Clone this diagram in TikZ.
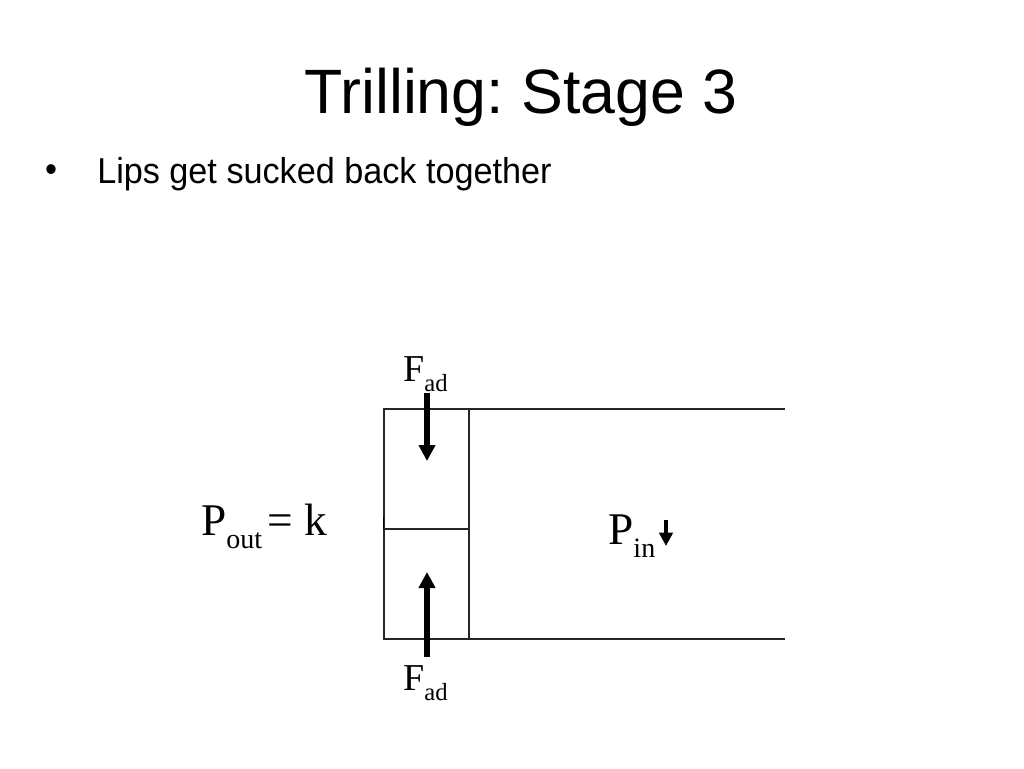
\documentclass[tikz,border=0pt]{standalone}
\usepackage{fontspec}
\setmainfont{Liberation Serif}
\newfontfamily\titlefont{Liberation Sans}
\newfontfamily\bodyfont[FakeStretch=0.95]{Liberation Sans}
\usetikzlibrary{arrows.meta}
\frenchspacing
\tikzset{
  wall/.style={draw=black!85, line width=1.1pt},
  force/.style={line width=4pt, -{Triangle[length=12pt,width=12pt]}},
  smallforce/.style={line width=3pt, -{Triangle[length=10pt,width=10pt]}},
  lbl/.style={inner sep=0pt, anchor=base west},
}
\newcommand{\Fad}{\fontsize{28.5}{30}\selectfont F\raisebox{-0.28em}{\fontsize{18.5}{19}\selectfont ad}}
\begin{document}
\begin{tikzpicture}[x=0.75pt,y=-0.75pt]
\useasboundingbox[fill=white] (0,0) rectangle (1024,768);
% title and bullet
\node[inner sep=0pt, anchor=base] (title) at (521,113) {\titlefont\fontsize{47}{50}\selectfont Trilling: Stage 3};
\node[inner sep=0pt] (bullet) at (51,173) {\bodyfont\fontsize{27}{30}\selectfont\textbullet};
\node[lbl] (point) at (97,183) {\bodyfont\fontsize{27}{30}\selectfont Lips get sucked back together};
% geometry
\coordinate (tl) at (384,409);
\coordinate (bl) at (384,639);
\coordinate (tr) at (785,409);
\coordinate (br) at (785,639);
\coordinate (mt) at (469,409);
\coordinate (mb) at (469,639);
\coordinate (ml) at (384,529);
\coordinate (mm) at (469,529);
\draw[wall] (tr) -- (tl) -- (bl) -- (br);
\draw[wall] (mt) -- (mb);
\draw[wall] (ml) -- (mm);
\draw[line width=1.4pt] (383.5,517) -- (383.5,529);
% forces
\coordinate (a1s) at (427,393);
\coordinate (a1e) at (427,461);
\coordinate (a2s) at (427,657);
\coordinate (a2e) at (427,572);
\draw[force] (a1s) -- (a1e);
\draw[force] (a2s) -- (a2e);
\node[lbl] (ftop) at (403,381) {\Fad};
\node[lbl] (fbot) at (403,690) {\Fad};
% pressures
\node[lbl] (pout) at (201,535) {\fontsize{34}{36}\selectfont P\raisebox{-0.3em}{\fontsize{21}{22}\selectfont out}\hspace{0.12em}= k};
\node[lbl] (pin) at (608,544) {\fontsize{34}{36}\selectfont P\raisebox{-0.3em}{\fontsize{21}{22}\selectfont in}};
\coordinate (p1s) at (666,520);
\coordinate (p1e) at (666,546);
\draw[smallforce] (p1s) -- (p1e);
\end{tikzpicture}
\end{document}
